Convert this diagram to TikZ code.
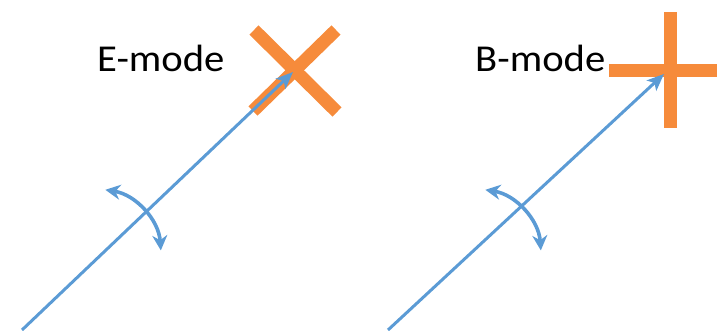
\documentclass[tikz,border=0pt]{standalone}
\usepackage{fontspec}
\setmainfont{Carlito}
\usetikzlibrary{arrows.meta}
\definecolor{rayblue}{HTML}{5B9BD5}
\definecolor{markorange}{HTML}{F68B3B}
\begin{document}
\begin{tikzpicture}[x=1pt,y=-1pt,
  ray/.style={draw=rayblue,line width=3pt,-{Stealth[length=17pt,width=14pt,inset=4pt]}},
  twist/.style={draw=rayblue,line width=3.6pt,{Stealth[length=15pt,width=15pt]}-{Stealth[length=15pt,width=15pt]}},
  bar/.style={draw=markorange,line width=13pt},
  label/.style={font=\fontsize{38}{40}\selectfont,anchor=base west,inner sep=0pt,xscale=1.07}]
\useasboundingbox (0,0) rectangle (717,330);
% E-mode panel
\node[label] (etext) at (97,71) {E-mode};
\draw[bar] (254,30) -- (337,112);
\draw[bar] (336,30) -- (253,111);
\coordinate (estart) at (22,330);
\coordinate (etip) at (293,72);
\draw[ray] (estart) -- (etip);
\draw[twist] (95,255) ++(-81:66) arc[start angle=-81,end angle=-4,radius=66];
% B-mode panel
\node[label] (btext) at (475,71) {B-mode};
\draw[bar] (609,70) -- (717,70);
\draw[bar] (670,12) -- (670,128);
\coordinate (bstart) at (388,330);
\coordinate (btip) at (664,74);
\draw[ray] (bstart) -- (btip);
\draw[twist] (475,255) ++(-81:66) arc[start angle=-81,end angle=-4,radius=66];
\end{tikzpicture}
\end{document}
